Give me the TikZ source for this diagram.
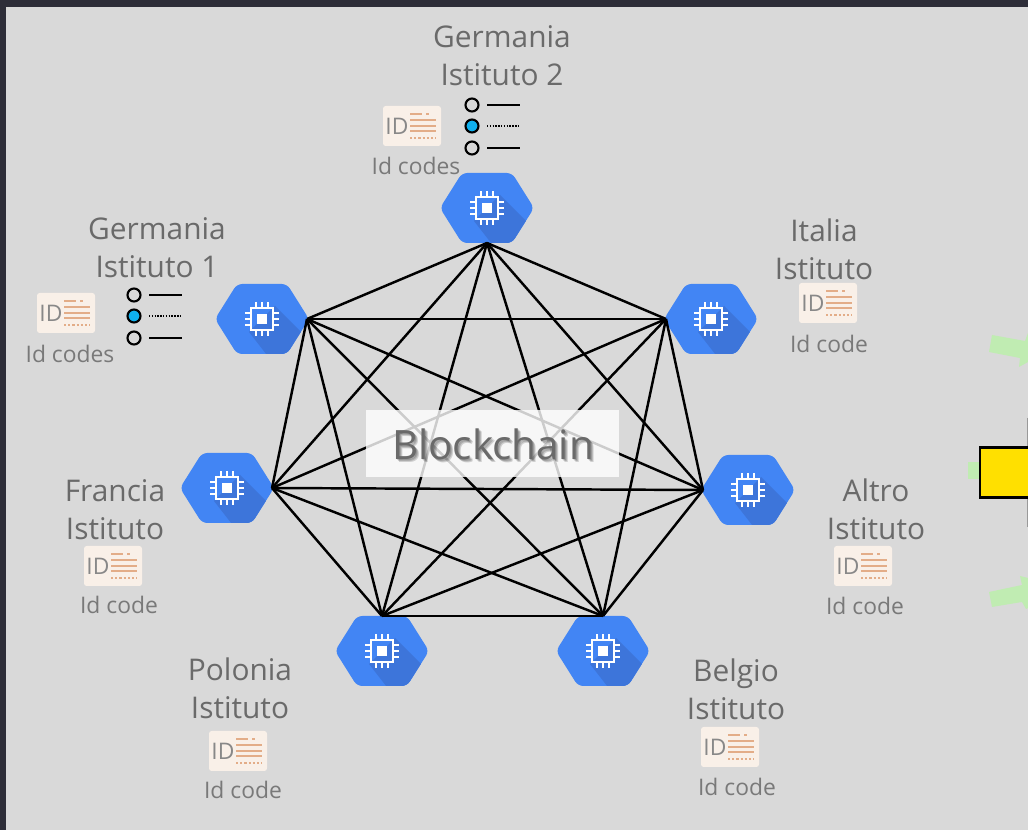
\documentclass[tikz,border=0pt]{standalone}
\usepackage{fontspec}
\setmainfont{Open Sans}
\definecolor{framedark}{HTML}{2D2D38}
\definecolor{panelgray}{HTML}{D9D9D9}
\definecolor{hexblue}{HTML}{4285F4}
\definecolor{hexshade}{HTML}{3D75DA}
\definecolor{labelgray}{HTML}{6A6A6A}
\definecolor{cardfill}{HTML}{F9F0E8}
\definecolor{cardline}{HTML}{E3AD88}
\definecolor{radioblue}{HTML}{0FB0EE}
\definecolor{arrowgreen}{HTML}{C0ECB2}
\definecolor{boxyellow}{HTML}{FFE000}
\tikzset{
  place/.style={text=labelgray,font=\fontsize{17}{21.5}\selectfont,align=center},
  codetext/.style={text=labelgray!90,font=\fontsize{13}{15}\selectfont},
  link/.style={black,line width=1.4pt},
  chiphex/.pic={
    \def\hexpath{(-47,0) -- (-25,-35) -- (25,-35) -- (47,0) -- (25,35) -- (-25,35) -- cycle}
    \begin{scope}
      \clip[rounded corners=3pt] \hexpath;
      \fill[hexblue] (-50,-40) rectangle (50,40);
      \fill[hexshade] (13,-13) -- (60,34) -- (60,40) -- (8,40) -- (-13,13) -- cycle;
    \end{scope}
    \draw[white,line width=1.6pt] (-11,-11) rectangle (11,11);
    \fill[white] (-5,-5) rectangle (5,5);
    \foreach \k in {-6,0,6}{
      \draw[white,line width=1.1pt] (\k,-17) -- (\k,-11) (\k,11) -- (\k,17) (-17,\k) -- (-11,\k) (11,\k) -- (17,\k);
    }
    \coordinate (-n) at (0,-35);
    \coordinate (-s) at (0,35);
    \coordinate (-w) at (-45,0);
    \coordinate (-e) at (45,0);
  },
  idcard/.pic={
    \fill[cardfill,rounded corners=1.5pt] (-29,-20) rectangle (29,20);
    \node[text=labelgray!80,font=\fontsize{13}{13}\selectfont,inner sep=0pt] (-txt) at (-15,0) {ID};
    \draw[cardline,line width=.7pt] (-2,-12) -- (10,-12) (14,-12) -- (17,-12);
    \draw[cardline,line width=.9pt] (-2,-6) -- (24,-6) (-2,0) -- (24,0) (-2,5) -- (24,5);
    \draw[cardline,line width=.9pt,dash pattern=on 1.2pt off 1.2pt] (-2,12) -- (24,12);
  },
  radiolist/.pic={
    \draw[black,line width=1.2pt] (0,-21) circle (6.5);
    \draw[black,line width=1.2pt,fill=radioblue] (0,0) circle (6.5);
    \draw[black,line width=1.2pt] (0,22) circle (6.5);
    \draw[black,line width=1.2pt] (15,-21) -- (48,-21) (15,22) -- (48,22);
    \draw[black,line width=1.2pt,dash pattern=on .8pt off .8pt] (15,0) -- (48,0);
  }
}
\begin{document}
\begin{tikzpicture}[x=0.02cm,y=-0.02cm]
  \useasboundingbox (0,0) rectangle (1028,830);
  \clip (0,0) rectangle (1028,830);
  \fill[framedark] (0,0) rectangle (1028,830);
  \fill[panelgray] (6,7) rectangle (1028,830);
  % right hand side
  \fill[arrowgreen] (992,335) -- (989,352) -- (1020,358) -- (1019,367) -- (1028,362) -- (1028,333) -- (1025,341) -- cycle;
  \fill[arrowgreen] (989,592) -- (992,607) -- (1022,602) -- (1026,609) -- (1028,608) -- (1028,578) -- (1020,576) -- (1022,585) -- cycle;
  \fill[arrowgreen] (968,462) rectangle (980,479);
  \draw[gray!80,line width=.8pt] (1027.5,418) -- (1027.5,447) (1027.5,498) -- (1027.5,527);
  \node[draw=black,line width=1.2pt,fill=boxyellow,minimum width=100*0.02cm,minimum height=50*0.02cm,inner sep=0pt,anchor=west] (yellowbox) at (978.5,472.5) {};
  % hexagons
  \pic (gerdue) at (487,208) {chiphex};
  \pic (geruno) at (262,319) {chiphex};
  \pic (ita) at (711,319) {chiphex};
  \pic (fra) at (227,488) {chiphex};
  \pic (alt) at (748,490) {chiphex};
  \pic (pol) at (382,651) {chiphex};
  \pic (bel) at (603,651) {chiphex};
  % all the links
  \foreach \a/\b in {gerdue-s/geruno-e,gerdue-s/ita-w,gerdue-s/fra-e,gerdue-s/alt-w,gerdue-s/pol-n,gerdue-s/bel-n,
    geruno-e/ita-w,geruno-e/fra-e,geruno-e/alt-w,geruno-e/pol-n,geruno-e/bel-n,
    ita-w/fra-e,ita-w/alt-w,ita-w/pol-n,ita-w/bel-n,
    fra-e/alt-w,fra-e/pol-n,fra-e/bel-n,
    alt-w/pol-n,alt-w/bel-n,pol-n/bel-n}{
    \draw[link] (\a) -- (\b);
  }
  % blockchain label
  \node[fill=white,fill opacity=.8,minimum width=253*0.02cm,minimum height=67*0.02cm,inner sep=0pt] (chainbox) at (492.5,443.5) {};
  \foreach \d in {1,2,3}{
    \node[text=black,text opacity=.16,font=\fontsize{23}{23}\selectfont] at (493+\d,444+\d) {Blockchain};
  }
  \node[text=labelgray,font=\fontsize{23}{23}\selectfont] (chain) at (493,444) {Blockchain};
  % place names
  \node[place] (lgerdue) at (502,55.5) {Germania\\Istituto 2};
  \node[place] (lgeruno) at (157,248) {Germania\\Istituto 1};
  \node[place] (lita) at (824,249) {Italia\\Istituto};
  \node[place] (lfra) at (115,509.5) {Francia\\Istituto};
  \node[place] (lalt) at (876,509) {Altro\\Istituto};
  \node[place] (lpol) at (240,688) {Polonia\\Istituto};
  \node[place] (lbel) at (736,689) {Belgio\\Istituto};
  % id cards
  \pic (cgerdue) at (412,126) {idcard};
  \pic (cgeruno) at (66,313) {idcard};
  \pic (cita) at (828,303) {idcard};
  \pic (cfra) at (113,566) {idcard};
  \pic (calt) at (863,566) {idcard};
  \pic (cpol) at (238,751) {idcard};
  \pic (cbel) at (730,747) {idcard};
  \node[codetext] (tgerdue) at (416,166) {Id codes};
  \node[codetext] (tgeruno) at (70,354) {Id codes};
  \node[codetext] (tita) at (829,344) {Id code};
  \node[codetext] (tfra) at (119,605) {Id code};
  \node[codetext] (talt) at (865,606) {Id code};
  \node[codetext] (tpol) at (243,790) {Id code};
  \node[codetext] (tbel) at (737,787) {Id code};
  % radio marks
  \pic (rgerdue) at (472,126) {radiolist};
  \pic (rgeruno) at (134,316) {radiolist};
\end{tikzpicture}
\end{document}
